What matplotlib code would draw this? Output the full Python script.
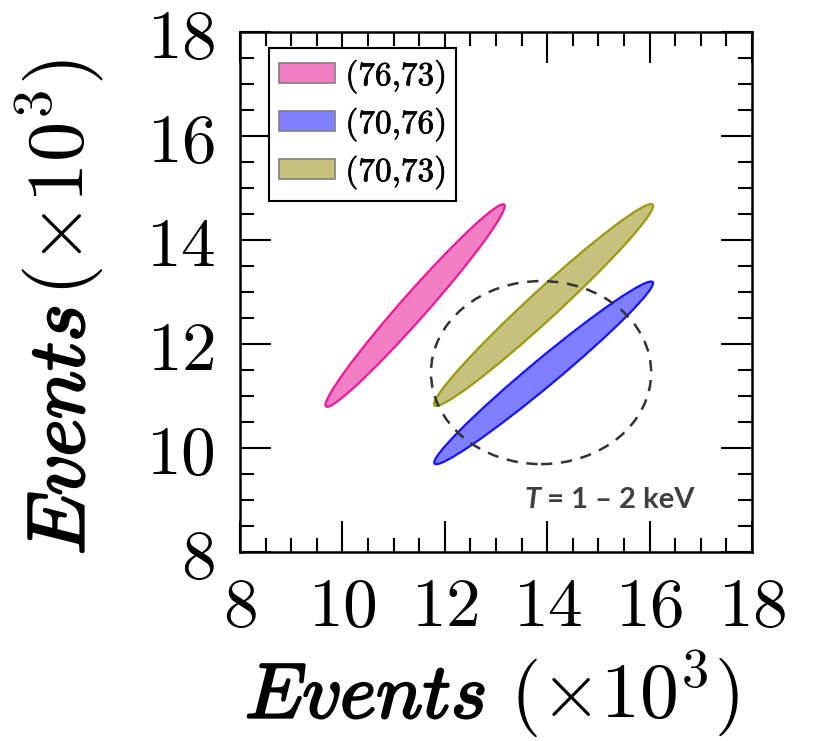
import numpy as np
import matplotlib
matplotlib.use('Agg')
import matplotlib.pyplot as plt
import matplotlib.patheffects as pe
from matplotlib.patches import Ellipse, Patch
from matplotlib.ticker import MultipleLocator

plt.rcParams['mathtext.fontset'] = 'cm'

# ellipse data: lower-left tip, upper-right tip, full minor width (x10^3 events)
labels = ['(76,73)', '(70,76)', '(70,73)']
x_low = [9.68, 11.80, 11.80]
y_low = [10.80, 9.70, 10.82]
x_high = [13.16, 16.06, 16.06]
y_high = [14.68, 13.19, 14.68]
widths = [0.50, 0.52, 0.56]
face_colors = ['#F27FC3', '#7F7FFF', '#C6C27E']
edge_colors = ['#F0189A', '#1414FF', '#9C9A10']

# dashed region
region_center = (13.88, 11.45)
region_width = 4.30
region_height = 3.52

ticks = [8, 10, 12, 14, 16, 18]

W, H = 818, 741
fig = plt.figure(figsize=(W / 100, H / 100), dpi=100)
ax = fig.add_axes([240 / W, 1 - 552 / H, 512 / W, 520 / H])

for i in range(len(labels)):
    cx = (x_low[i] + x_high[i]) / 2
    cy = (y_low[i] + y_high[i]) / 2
    length = np.hypot(x_high[i] - x_low[i], y_high[i] - y_low[i])
    ang = np.degrees(np.arctan2(y_high[i] - y_low[i], x_high[i] - x_low[i]))
    ax.add_patch(Ellipse((cx, cy), length, widths[i], angle=ang,
                         facecolor=face_colors[i], edgecolor=edge_colors[i],
                         lw=1.6, zorder=2))

ax.add_patch(Ellipse(region_center, region_width, region_height, fill=False,
                     edgecolor='#333333', lw=1.8, ls=(0, (4.5, 3.5)), zorder=3))

ax.set_xlim(8, 18)
ax.set_ylim(8, 18)
ax.set_xticks(ticks)
ax.set_yticks(ticks)
ax.set_xticklabels([f'${t}$' for t in ticks])
ax.set_yticklabels([f'${t}$' for t in ticks])
ax.xaxis.set_minor_locator(MultipleLocator(0.5))
ax.yaxis.set_minor_locator(MultipleLocator(0.5))
ax.tick_params(which='both', direction='in', top=True, right=True, width=1.5)
ax.tick_params(which='major', length=22, labelsize=50)
ax.tick_params(axis='x', which='major', pad=15)
ax.tick_params(axis='y', which='major', pad=18)
ax.tick_params(which='minor', length=10)
for s in ax.spines.values():
    s.set_linewidth(1.8)

# axis labels: bold italic "Events" + regular "(x10^3)"
bold = [pe.Stroke(linewidth=1.7, foreground='black'), pe.Normal()]
fig.text(245 / W, 1 - 718 / H, r'$Events$', fontsize=56, ha='left',
         va='baseline', path_effects=bold)
fig.text(510 / W, 1 - 718 / H, r'$(\times 10^{3})$', fontsize=56,
         ha='left', va='baseline')
fig.text(84 / W, 1 - 555 / H, r'$Events$', fontsize=58, ha='left',
         va='baseline', rotation=90, rotation_mode='anchor', path_effects=bold)
fig.text(84 / W, 1 - 296 / H, r'$(\times 10^{3})$', fontsize=58,
         ha='left', va='baseline', rotation=90, rotation_mode='anchor')

# annotation
t1 = ax.text(0.555, 0.1, 'T', transform=ax.transAxes, ha='left', va='center',
             fontsize=21, fontweight='bold', fontstyle='italic',
             color='#404040', family=['Lato', 'DejaVu Sans'])
ax.annotate(' = 1 – 2 keV', xy=(1, 0.5), xycoords=t1, ha='left', va='center',
            fontsize=21, fontweight='bold', color='#404040',
            family=['Lato', 'DejaVu Sans'])

handles = [Patch(facecolor=face_colors[i], edgecolor='#808080', lw=1.2)
           for i in range(len(labels))]
leg_labels = [r'$\mathbf{' + l.replace(',', '{,}') + '}$' for l in labels]
leg = ax.legend(handles, leg_labels,
                loc='upper left', bbox_to_anchor=(0.056, 0.970), borderaxespad=0,
                fontsize=24, fancybox=False, framealpha=1, edgecolor='black',
                handlelength=1.7, handleheight=0.55, handletextpad=0.3,
                labelspacing=0.3, borderpad=0.3)
leg.get_frame().set_linewidth(1.5)
leg.set_zorder(5)
for t in leg.get_texts():
    t.set_path_effects([pe.Stroke(linewidth=0.5, foreground='black'), pe.Normal()])

fig.savefig('out.png', dpi=100)
